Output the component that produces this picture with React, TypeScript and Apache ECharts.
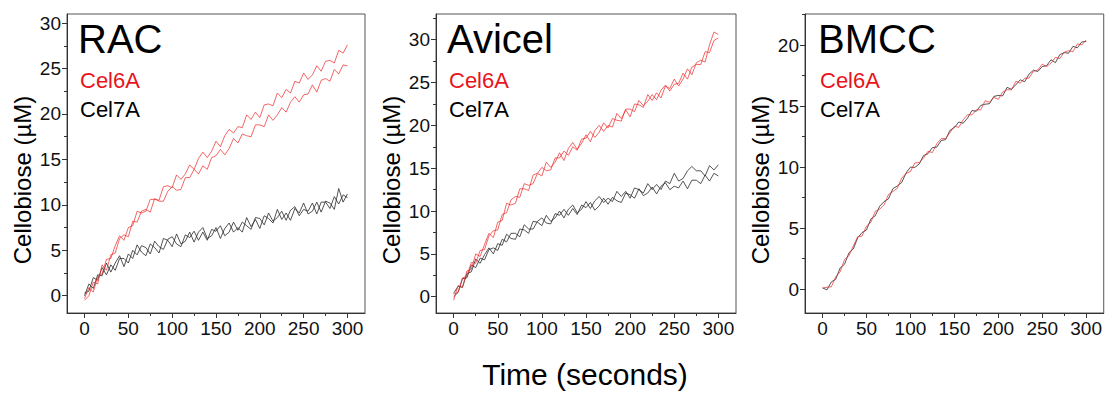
import React, { useEffect, useRef } from "react";
import * as echarts from "echarts";

// ---- Data (time in seconds, cellobiose in µM) ----
const TIME = [0, 5, 10, 15, 20, 25, 30, 35, 40, 45, 50, 55, 60, 65, 70, 75, 80, 85, 90, 95, 100, 105, 110, 115, 120, 125, 130, 135, 140, 145, 150, 155, 160, 165, 170, 175, 180, 185, 190, 195, 200, 205, 210, 215, 220, 225, 230, 235, 240, 245, 250, 255, 260, 265, 270, 275, 280, 285, 290, 295, 300];

const RAC_CEL6A_1 = [-0.3, 0.9, 0.4, 2.1, 2.4, 4.0, 4.1, 5.5, 6.6, 6.1, 7.5, 7.7, 9.3, 9.1, 9.3, 10.6, 10.6, 10.5, 12.0, 12.1, 11.9, 13.3, 12.8, 13.4, 14.4, 13.9, 15.1, 15.8, 15.2, 15.9, 17.0, 16.4, 17.6, 18.3, 17.9, 18.6, 18.5, 19.9, 19.4, 20.2, 19.6, 21.0, 21.1, 20.9, 22.3, 21.8, 22.7, 22.3, 23.6, 23.4, 24.5, 23.8, 24.3, 25.3, 24.7, 25.8, 25.9, 25.6, 27.0, 26.7, 27.6];
const RAC_CEL6A_2 = [-0.5, 0.0, 1.5, 1.3, 3.4, 2.8, 4.5, 4.7, 6.3, 6.7, 6.5, 8.2, 8.1, 9.3, 9.5, 9.2, 10.7, 10.4, 10.4, 11.5, 12.0, 11.6, 11.7, 13.0, 13.0, 13.9, 13.4, 14.3, 13.9, 15.2, 15.4, 16.1, 15.5, 16.2, 17.3, 16.8, 17.8, 17.6, 17.5, 18.8, 18.8, 18.6, 19.9, 19.3, 19.9, 20.7, 20.2, 21.3, 21.9, 21.3, 22.1, 22.2, 23.2, 22.4, 23.7, 23.9, 23.6, 24.9, 24.4, 25.4, 25.3];
const RAC_CEL7A_1 = [0.0, 1.3, 0.8, 2.3, 2.2, 3.6, 2.6, 3.6, 4.4, 3.2, 4.6, 4.1, 5.6, 4.8, 4.4, 5.7, 5.3, 4.7, 6.3, 6.1, 5.4, 6.8, 5.7, 6.0, 7.0, 5.9, 7.0, 7.5, 6.3, 6.6, 7.5, 6.3, 7.4, 8.0, 7.0, 7.5, 7.0, 8.6, 7.6, 8.4, 7.4, 8.8, 8.5, 8.0, 9.5, 8.4, 9.1, 8.3, 9.6, 9.1, 10.2, 9.0, 9.3, 10.3, 9.2, 10.4, 10.2, 9.5, 11.8, 10.3, 11.2];
const RAC_CEL7A_2 = [0.3, 0.5, 2.0, 1.7, 3.1, 2.3, 3.4, 2.8, 4.1, 4.1, 3.6, 5.0, 4.5, 5.5, 5.3, 4.6, 6.0, 5.4, 5.1, 6.2, 6.5, 5.7, 5.4, 6.7, 6.4, 7.1, 6.1, 7.0, 6.1, 7.3, 7.1, 7.7, 6.6, 7.0, 8.1, 7.2, 8.1, 7.7, 7.3, 8.6, 8.5, 7.8, 9.1, 8.2, 8.6, 9.3, 8.3, 9.4, 9.8, 8.8, 9.5, 9.3, 10.2, 9.0, 10.3, 10.3, 9.6, 10.9, 10.1, 11.1, 10.8];

const AVICEL_CEL6A_1 = [-0.4, 1.3, 1.1, 3.0, 3.2, 5.0, 4.7, 6.1, 7.4, 6.9, 8.7, 8.9, 10.9, 10.7, 10.9, 12.6, 12.6, 12.4, 14.2, 14.4, 14.1, 15.7, 15.1, 15.7, 16.8, 15.9, 17.3, 18.0, 17.2, 17.9, 18.9, 18.1, 19.4, 20.0, 19.3, 20.0, 19.8, 21.4, 20.8, 21.8, 21.0, 22.5, 22.4, 22.1, 23.6, 22.9, 23.8, 23.2, 24.6, 24.3, 25.4, 24.6, 25.4, 26.6, 25.9, 27.3, 27.6, 27.4, 29.4, 30.9, 30.6];
const AVICEL_CEL6A_2 = [0.3, 0.5, 2.2, 2.4, 4.0, 3.9, 5.4, 5.5, 7.1, 7.7, 7.8, 9.6, 9.8, 11.3, 11.7, 11.6, 13.2, 13.0, 13.2, 14.4, 15.1, 14.7, 14.8, 16.2, 16.2, 17.0, 16.5, 17.5, 17.1, 18.4, 18.5, 19.3, 18.6, 19.2, 20.3, 19.7, 20.8, 20.6, 20.5, 21.9, 21.9, 21.6, 22.9, 22.3, 22.8, 23.6, 23.0, 24.1, 24.7, 24.0, 24.8, 24.9, 26.1, 25.4, 26.8, 27.1, 27.1, 28.6, 28.5, 29.9, 30.2];
const AVICEL_CEL7A_1 = [0.0, 0.5, 2.1, 2.2, 3.7, 3.4, 4.5, 4.3, 5.5, 5.7, 5.4, 6.7, 6.4, 7.4, 7.4, 7.0, 8.4, 7.9, 7.9, 8.8, 9.2, 8.6, 8.5, 9.7, 9.5, 10.2, 9.5, 10.3, 9.6, 10.7, 10.4, 11.0, 10.1, 10.6, 11.5, 10.8, 11.6, 11.2, 11.0, 12.1, 11.9, 11.5, 12.6, 11.8, 12.1, 12.8, 12.0, 12.9, 13.3, 12.5, 12.9, 12.7, 13.5, 12.6, 13.6, 13.6, 13.2, 14.2, 13.5, 14.4, 14.1];
const AVICEL_CEL7A_2 = [0.4, 1.2, 1.1, 2.7, 2.9, 4.4, 3.9, 4.9, 5.7, 5.0, 6.2, 6.0, 7.3, 6.8, 6.7, 7.9, 7.8, 7.4, 8.8, 8.7, 8.3, 9.5, 8.8, 9.2, 10.0, 9.2, 10.2, 10.7, 9.8, 10.2, 11.1, 10.3, 11.2, 11.7, 11.0, 11.5, 11.1, 12.3, 11.7, 12.3, 11.5, 12.7, 12.5, 12.1, 13.2, 12.5, 13.1, 12.5, 13.5, 13.2, 14.4, 13.5, 13.8, 14.7, 15.2, 14.7, 14.7, 14.1, 15.3, 14.8, 15.4];

const BMCC_CEL6A = [0.1, 0.16, 0.2, 1.02, 1.42, 2.44, 2.74, 3.54, 4.3, 4.36, 5.18, 5.48, 6.38, 6.56, 6.9, 7.76, 8.0, 8.26, 9.1, 9.48, 9.64, 10.34, 10.38, 10.76, 11.3, 11.2, 11.92, 12.34, 12.34, 12.82, 13.36, 13.26, 13.88, 14.3, 14.28, 14.7, 14.7, 15.44, 15.32, 15.72, 15.56, 16.16, 16.34, 16.34, 17.04, 16.88, 17.28, 17.3, 17.86, 17.96, 18.44, 18.24, 18.52, 19.0, 18.9, 19.42, 19.54, 19.46, 20.1, 20.02, 20.42];
const BMCC_CEL7A = [0.1, -0.05, 0.6, 0.82, 1.74, 2.04, 2.98, 3.3, 4.22, 4.64, 4.86, 5.76, 6.02, 6.8, 7.18, 7.4, 8.24, 8.46, 8.74, 9.52, 10.0, 9.98, 10.26, 10.96, 11.1, 11.6, 11.64, 12.18, 12.26, 13.02, 13.24, 13.7, 13.6, 14.02, 14.64, 14.58, 15.06, 15.16, 15.2, 15.8, 15.88, 15.84, 16.54, 16.38, 16.76, 17.16, 17.0, 17.62, 17.94, 17.84, 18.24, 18.32, 18.8, 18.56, 19.22, 19.38, 19.34, 19.9, 19.78, 20.26, 20.3];

// ---- Axis ticks / labels ----
const X_TICKS = [0, 50, 100, 150, 200, 250, 300];
const X_MINOR_TICKS = [25, 75, 125, 175, 225, 275];
const Y_TICKS_30 = [0, 5, 10, 15, 20, 25, 30];
const Y_MINOR_30 = [2.5, 7.5, 12.5, 17.5, 22.5, 27.5];
const Y_MINOR_AVICEL = [2.5, 7.5, 12.5, 17.5, 22.5, 27.5, 32.5];
const Y_TICKS_20 = [0, 5, 10, 15, 20];
const Y_MINOR_20 = [2.5, 7.5, 12.5, 17.5, 22.5];

// ---- Text ----
const PANEL_TITLES = ["RAC", "Avicel", "BMCC"];
const SERIES_NAMES = ["Cel6A", "Cel7A"];
const Y_TITLE = "Cellobiose (µM)";
const X_TITLE = "Time (seconds)";

const FONT = "'Liberation Sans', Arial, Helvetica, sans-serif";
const RED = "#ee2a2a";
const LABEL_RED = "#e8141c";
const BLACK = "#2a2a2a";

const PANELS = [
  { left: 67, width: 298, yMin: -1.9, yMax: 31, yTicks: Y_TICKS_30, yMinor: Y_MINOR_30,
    red: [RAC_CEL6A_1, RAC_CEL6A_2], black: [RAC_CEL7A_1, RAC_CEL7A_2] },
  { left: 436, width: 300, yMin: -1.9, yMax: 33, yTicks: Y_TICKS_30, yMinor: Y_MINOR_AVICEL,
    red: [AVICEL_CEL6A_1, AVICEL_CEL6A_2], black: [AVICEL_CEL7A_1, AVICEL_CEL7A_2] },
  { left: 805, width: 299, yMin: -1.95, yMax: 22.55, yTicks: Y_TICKS_20, yMinor: Y_MINOR_20,
    red: [BMCC_CEL6A], black: [BMCC_CEL7A] },
];

const pairs = (ys: number[]) => TIME.map((t, i) => [t, ys[i]]);

export default function App() {
  const ref = useRef<HTMLDivElement>(null);
  useEffect(() => {
    if (!ref.current) return;
    const chart = echarts.init(ref.current, undefined, { renderer: "svg" });
    const grid: any[] = [];
    const xAxis: any[] = [];
    const yAxis: any[] = [];
    const series: any[] = [];
    const graphic: any[] = [];

    PANELS.forEach((p, i) => {
      grid.push({ left: p.left, top: 14, width: p.width, height: 299, show: true,
        borderColor: "#555", borderWidth: 1, backgroundColor: "transparent", containLabel: false });
      xAxis.push({
        type: "value", gridIndex: i, min: -20, max: 320, position: "bottom",
        axisLine: { show: true, onZero: false, lineStyle: { color: "#333", width: 1 } },
        axisTick: { show: true, customValues: X_TICKS, length: 5, inside: false, lineStyle: { color: "#333" } },
        axisLabel: { show: true, customValues: X_TICKS, fontSize: 19, color: "#111", margin: 6, fontFamily: FONT },
        splitLine: { show: false },
      });
      xAxis.push({
        type: "value", gridIndex: i, min: -20, max: 320, position: "bottom",
        axisLine: { show: false, onZero: false },
        axisTick: { show: true, customValues: X_MINOR_TICKS, length: 3, inside: false, lineStyle: { color: "#333" } },
        axisLabel: { show: false }, splitLine: { show: false },
      });
      yAxis.push({
        type: "value", gridIndex: i, min: p.yMin, max: p.yMax, position: "left",
        axisLine: { show: true, onZero: false, lineStyle: { color: "#333", width: 1 } },
        axisTick: { show: true, customValues: p.yTicks, length: 5, inside: false, lineStyle: { color: "#333" } },
        axisLabel: { show: true, customValues: p.yTicks, fontSize: 19, color: "#111", margin: 6, fontFamily: FONT },
        splitLine: { show: false },
      });
      yAxis.push({
        type: "value", gridIndex: i, min: p.yMin, max: p.yMax, position: "left",
        axisLine: { show: false, onZero: false },
        axisTick: { show: true, customValues: p.yMinor, length: 3, inside: false, lineStyle: { color: "#333" } },
        axisLabel: { show: false }, splitLine: { show: false },
      });
      p.black.forEach((d) => series.push({
        type: "line", xAxisIndex: 2 * i, yAxisIndex: 2 * i, data: pairs(d), showSymbol: false,
        lineStyle: { color: BLACK, width: 0.8 }, z: 2,
      }));
      p.red.forEach((d) => series.push({
        type: "line", xAxisIndex: 2 * i, yAxisIndex: 2 * i, data: pairs(d), showSymbol: false,
        lineStyle: { color: RED, width: 0.8, opacity: 0.9 }, z: 3,
      }));

      const tx = p.left + (i === 2 ? 13 : 11);
      graphic.push({ type: "text", x: tx, y: 39, style: { text: PANEL_TITLES[i], fontSize: 40, fontFamily: FONT,
        fill: "#000", align: "left", textAlign: "left", verticalAlign: "middle", textVerticalAlign: "middle" } });
      graphic.push({ type: "text", x: tx + 2, y: 80, style: { text: SERIES_NAMES[0], fontSize: 22, fontFamily: FONT,
        fill: LABEL_RED, align: "left", textAlign: "left", verticalAlign: "middle", textVerticalAlign: "middle" } });
      graphic.push({ type: "text", x: tx + 2, y: 109, style: { text: SERIES_NAMES[1], fontSize: 22, fontFamily: FONT,
        fill: "#000", align: "left", textAlign: "left", verticalAlign: "middle", textVerticalAlign: "middle" } });
      graphic.push({ type: "text", x: p.left - 45, y: 180, rotation: Math.PI / 2, style: { text: Y_TITLE, fontSize: 24,
        fontFamily: FONT, fill: "#000", align: "center", textAlign: "center", verticalAlign: "middle", textVerticalAlign: "middle" } });
    });
    graphic.push({ type: "text", x: 585, y: 374, style: { text: X_TITLE, fontSize: 30, fontFamily: FONT,
      fill: "#000", align: "center", textAlign: "center", verticalAlign: "middle", textVerticalAlign: "middle" } });

    chart.setOption({ animation: false, backgroundColor: "#fff", grid, xAxis, yAxis, series, graphic });
    return () => chart.dispose();
  }, []);
  return <div ref={ref} style={{ position: "fixed", left: 0, top: 0, width: 1105, height: 393 }} />;
}
